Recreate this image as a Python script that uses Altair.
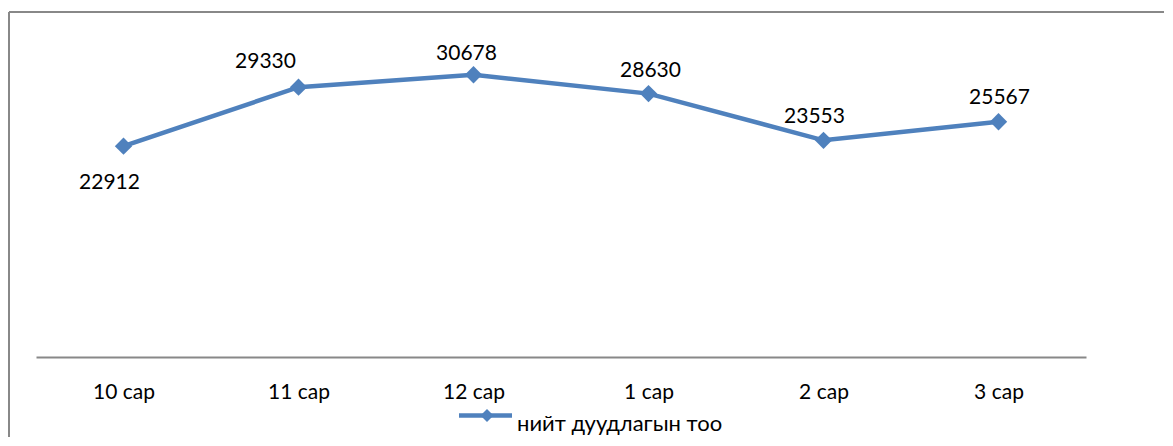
import altair as alt
import pandas as pd

months = ["10 сар", "11 сар", "12 сар", "1 сар", "2 сар", "3 сар"]
calls = [22912, 29330, 30678, 28630, 23553, 25567]
series_name = "нийт дуудлагын тоо"

# label nudges (style): (dx, dy) per point
label_nudge = [(-14, 37), (-33, -25), (-7, -21), (2, -23), (-9, -23), (1, -24)]

df = pd.DataFrame({"month": months, "calls": calls})
one = pd.DataFrame({"k": [0]})

FONT = "Lato, 'Open Sans', sans-serif"
BLUE = "#4F81BD"
GRAY = "#888888"
FS = 21

x = alt.X("month:N", sort=months,
          scale=alt.Scale(type="point", padding=0.5),
          axis=alt.Axis(title=None, labelAngle=0, ticks=False, grid=False,
                        domainColor=GRAY, domainWidth=2,
                        labelFont=FONT, labelFontSize=FS, labelColor="black",
                        labelPadding=24, labelBaseline="top"))
y = alt.Y("calls:Q", scale=alt.Scale(domain=[0, 35000]), axis=None)

base = alt.Chart(df)
line = base.mark_line(color=BLUE, strokeWidth=4.5).encode(x=x, y=y)
pts = base.mark_point(shape="diamond", filled=True, size=300, color=BLUE, opacity=1).encode(x=x, y=y)

labels = []
for m, (dx, dy) in zip(months, label_nudge):
    labels.append(
        base.transform_filter(alt.datum.month == m)
        .mark_text(dx=dx, dy=dy, font=FONT, fontSize=FS, baseline="middle", color="black")
        .encode(x=x, y=y, text=alt.Text("calls:Q", format="d"))
    )

ob = alt.Chart(one)
border_top = ob.mark_rule(color=GRAY, strokeWidth=2).encode(
    x=alt.value(-27), x2=alt.value(1140), y=alt.value(-23))
border_left = ob.mark_rule(color=GRAY, strokeWidth=2).encode(
    x=alt.value(-27), y=alt.value(-23), y2=alt.value(420))

leg_line = ob.mark_rule(color=BLUE, strokeWidth=4.5).encode(
    x=alt.value(423), x2=alt.value(476), y=alt.value(380.5))
leg_pt = ob.mark_point(shape="diamond", filled=True, size=170, color=BLUE, opacity=1).encode(
    x=alt.value(451), y=alt.value(380.5))
leg_text = ob.mark_text(align="left", font=FONT, fontSize=22, color="black").encode(
    x=alt.value(481), y=alt.value(389), text=alt.value(series_name))

chart = alt.layer(border_top, border_left, line, pts, *labels, leg_line, leg_pt, leg_text).properties(
    width=1050, height=322,
    autosize=alt.AutoSizeParams(type="none"),
    padding={"left": 28, "top": 27, "right": 78, "bottom": 80},
).configure_view(stroke=None)

chart.save("out.html", embed_options={"renderer": "svg", "actions": False})
